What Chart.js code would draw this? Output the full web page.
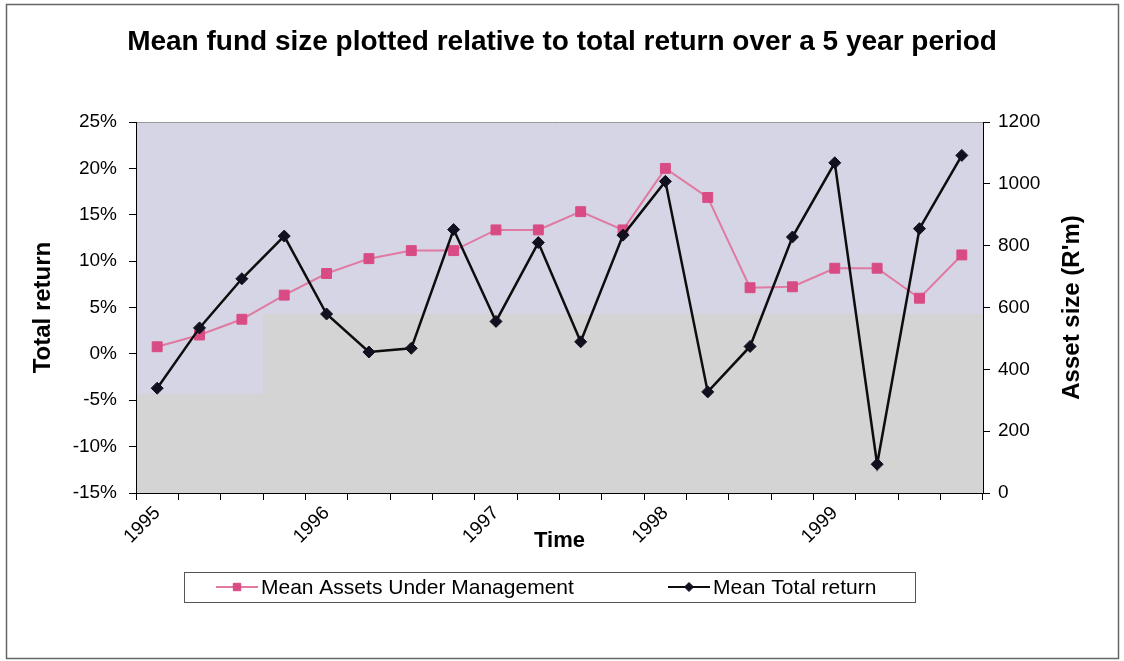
<!DOCTYPE html>
<html>
<head>
<meta charset="utf-8">
<title>Mean fund size vs total return</title>
<script src="https://cdn.jsdelivr.net/npm/chart.js@4.4.1/dist/chart.umd.min.js"></script>
<style>
  html, body { margin: 0; padding: 0; background: #fff; }
  #wrap { width: 1124px; height: 661px; }
</style>
</head>
<body>
<div id="wrap"><canvas id="fundChart"></canvas></div>
<script>
// quarterly figures, 1995 Q1 .. 1999 Q4 (year shown on each Q1)
const quarterLabels = ['1995', '', '', '', '1996', '', '', '', '1997', '', '', '', '1998', '', '', '', '1999', '', '', ''];
const meanAssets = [473, 511, 562, 640, 710, 758, 784, 784, 851, 851, 910, 851, 1050, 956, 664, 667, 727, 727, 630, 770];
const meanReturn = [-3.7, 2.8, 8.1, 12.7, 4.3, 0.2, 0.6, 13.4, 3.5, 12.0, 1.3, 12.8, 18.6, -4.1, 0.8, 12.6, 20.6, -11.9, 13.5, 21.4];
const returnRange = [-15, 25, 5];     // min, max, step (%)
const assetRange = [0, 1200, 200];    // min, max, step (R'm)

const FONT = "'Liberation Sans', Arial, sans-serif";
Chart.defaults.font.family = FONT;
Chart.defaults.color = '#000';

// plot area fill, border and the outer frame
const plotBackground = {
    id: 'plotBackground',
    beforeDraw(chart) {
        const { ctx, chartArea: a, scales } = chart;
        const x = scales.x, yR = scales.yReturn;
        ctx.save();
        ctx.fillStyle = '#d5d5e5';
        ctx.fillRect(a.left, a.top, a.width, a.height);

        // lower grey band of the plot area
        const stepX = (x.getPixelForValue(2) + x.getPixelForValue(3)) / 2;
        const lowY = yR.getPixelForValue(-4.3);
        const highY = yR.getPixelForValue(4.3);
        ctx.fillStyle = '#d4d4d4';
        ctx.beginPath();
        ctx.moveTo(a.left, a.bottom);
        ctx.lineTo(a.left, lowY);
        ctx.lineTo(stepX, lowY);
        ctx.lineTo(stepX, highY);
        ctx.lineTo(a.right, highY);
        ctx.lineTo(a.right, a.bottom);
        ctx.closePath();
        ctx.fill();

        ctx.strokeStyle = '#999';
        ctx.lineWidth = 1;
        ctx.beginPath();
        ctx.moveTo(a.left, a.top + 0.5);
        ctx.lineTo(a.right, a.top + 0.5);
        ctx.stroke();

        ctx.strokeStyle = '#666';
        ctx.lineWidth = 1.5;
        ctx.strokeRect(6.5, 4.5, chart.width - 12, chart.height - 7);
        ctx.restore();
    }
};

// right axis title reads bottom-to-top, and the boxed legend under the chart
const extras = {
    id: 'extras',
    afterDraw(chart) {
        const ctx = chart.ctx;
        const yA = chart.scales.yAssets;
        ctx.save();
        ctx.translate(yA.right - 32, (yA.top + yA.bottom) / 2);
        ctx.rotate(-Math.PI / 2);
        ctx.font = 'bold 24px ' + FONT;
        ctx.fillStyle = '#000';
        ctx.textAlign = 'center';
        ctx.textBaseline = 'middle';
        ctx.fillText("Asset size (R'm)", 0, 0);
        ctx.restore();

        const top = 572, h = 30, midY = top + h / 2;
        const slots = [216, 668];
        ctx.save();
        ctx.strokeStyle = '#555';
        ctx.lineWidth = 1;
        ctx.strokeRect(184.5, top + 0.5, 731, h);
        chart.data.datasets.forEach((ds, i) => {
            const x0 = slots[i], x1 = x0 + 42;
            ctx.strokeStyle = ds.borderColor;
            ctx.lineWidth = 2;
            ctx.beginPath();
            ctx.moveTo(x0, midY);
            ctx.lineTo(x1, midY);
            ctx.stroke();
            ctx.fillStyle = ds.pointBackgroundColor;
            ctx.strokeStyle = ds.pointBorderColor;
            ctx.lineWidth = 1;
            Chart.helpers.drawPoint(ctx, { pointStyle: ds.pointStyle, radius: ds.pointRadius * 0.75, rotation: 0, borderWidth: 1 }, (x0 + x1) / 2, midY);
            ctx.fillStyle = '#000';
            ctx.font = '21px ' + FONT;
            ctx.textAlign = 'left';
            ctx.textBaseline = 'middle';
            ctx.fillText(ds.label, x1 + 3, midY + 1);
        });
        ctx.restore();
    }
};

const axisGrid = { display: true, drawOnChartArea: false, tickLength: 7, color: '#000' };
const axisBorder = { color: '#000', width: 1 };
const tickFont = { size: 19 };

new Chart(document.getElementById('fundChart').getContext('2d'), {
    type: 'line',
    data: {
        labels: quarterLabels,
        datasets: [{
            label: 'Mean Assets Under Management',
            data: meanAssets,
            yAxisID: 'yAssets',
            borderColor: '#e07aa2',
            borderWidth: 2,
            pointStyle: 'rect',
            pointRadius: 7,
            pointBackgroundColor: '#d94b84',
            pointBorderColor: '#d94b84',
            pointBorderWidth: 1,
            tension: 0,
            order: 2
        }, {
            label: 'Mean Total return',
            data: meanReturn,
            yAxisID: 'yReturn',
            borderColor: '#0d0d0d',
            borderWidth: 2.5,
            pointStyle: 'rectRot',
            pointRadius: 6,
            pointBackgroundColor: '#10101e',
            pointBorderColor: '#10101e',
            pointBorderWidth: 1,
            tension: 0,
            order: 1
        }]
    },
    options: {
        responsive: true,
        maintainAspectRatio: false,
        animation: false,
        layout: { padding: { left: 20, right: 20, top: 0, bottom: 98 } },
        plugins: {
            legend: { display: false },
            tooltip: { enabled: false },
            title: {
                display: true,
                text: 'Mean fund size plotted relative to total return over a 5 year period',
                font: { size: 28, weight: 'bold' },
                color: '#000',
                padding: { top: 25.2, bottom: 63.2 }
            }
        },
        scales: {
            x: {
                type: 'category',
                offset: true,
                grid: Object.assign({ offset: true }, axisGrid),
                border: axisBorder,
                ticks: { autoSkip: false, minRotation: 45, maxRotation: 45, padding: 2, font: tickFont },
                title: { display: true, text: 'Time', font: { size: 22, weight: 'bold' }, padding: { top: 0, bottom: 9 } },
                afterFit(scale) { scale.height = 70; }
            },
            yReturn: {
                position: 'left',
                min: returnRange[0],
                max: returnRange[1],
                grid: axisGrid,
                border: axisBorder,
                ticks: { stepSize: returnRange[2], padding: 12, font: tickFont, callback: v => v + '%' },
                title: { display: true, text: 'Total return', font: { size: 24, weight: 'bold' }, padding: { top: 9, bottom: 0 } },
                afterFit(scale) { scale.width = 116; }
            },
            yAssets: {
                position: 'right',
                min: assetRange[0],
                max: assetRange[1],
                grid: axisGrid,
                border: axisBorder,
                ticks: { stepSize: assetRange[2], padding: 8, font: tickFont, callback: v => String(v) },
                afterFit(scale) { scale.width = 121; }
            }
        }
    },
    plugins: [plotBackground, extras]
});
</script>
</body>
</html>
